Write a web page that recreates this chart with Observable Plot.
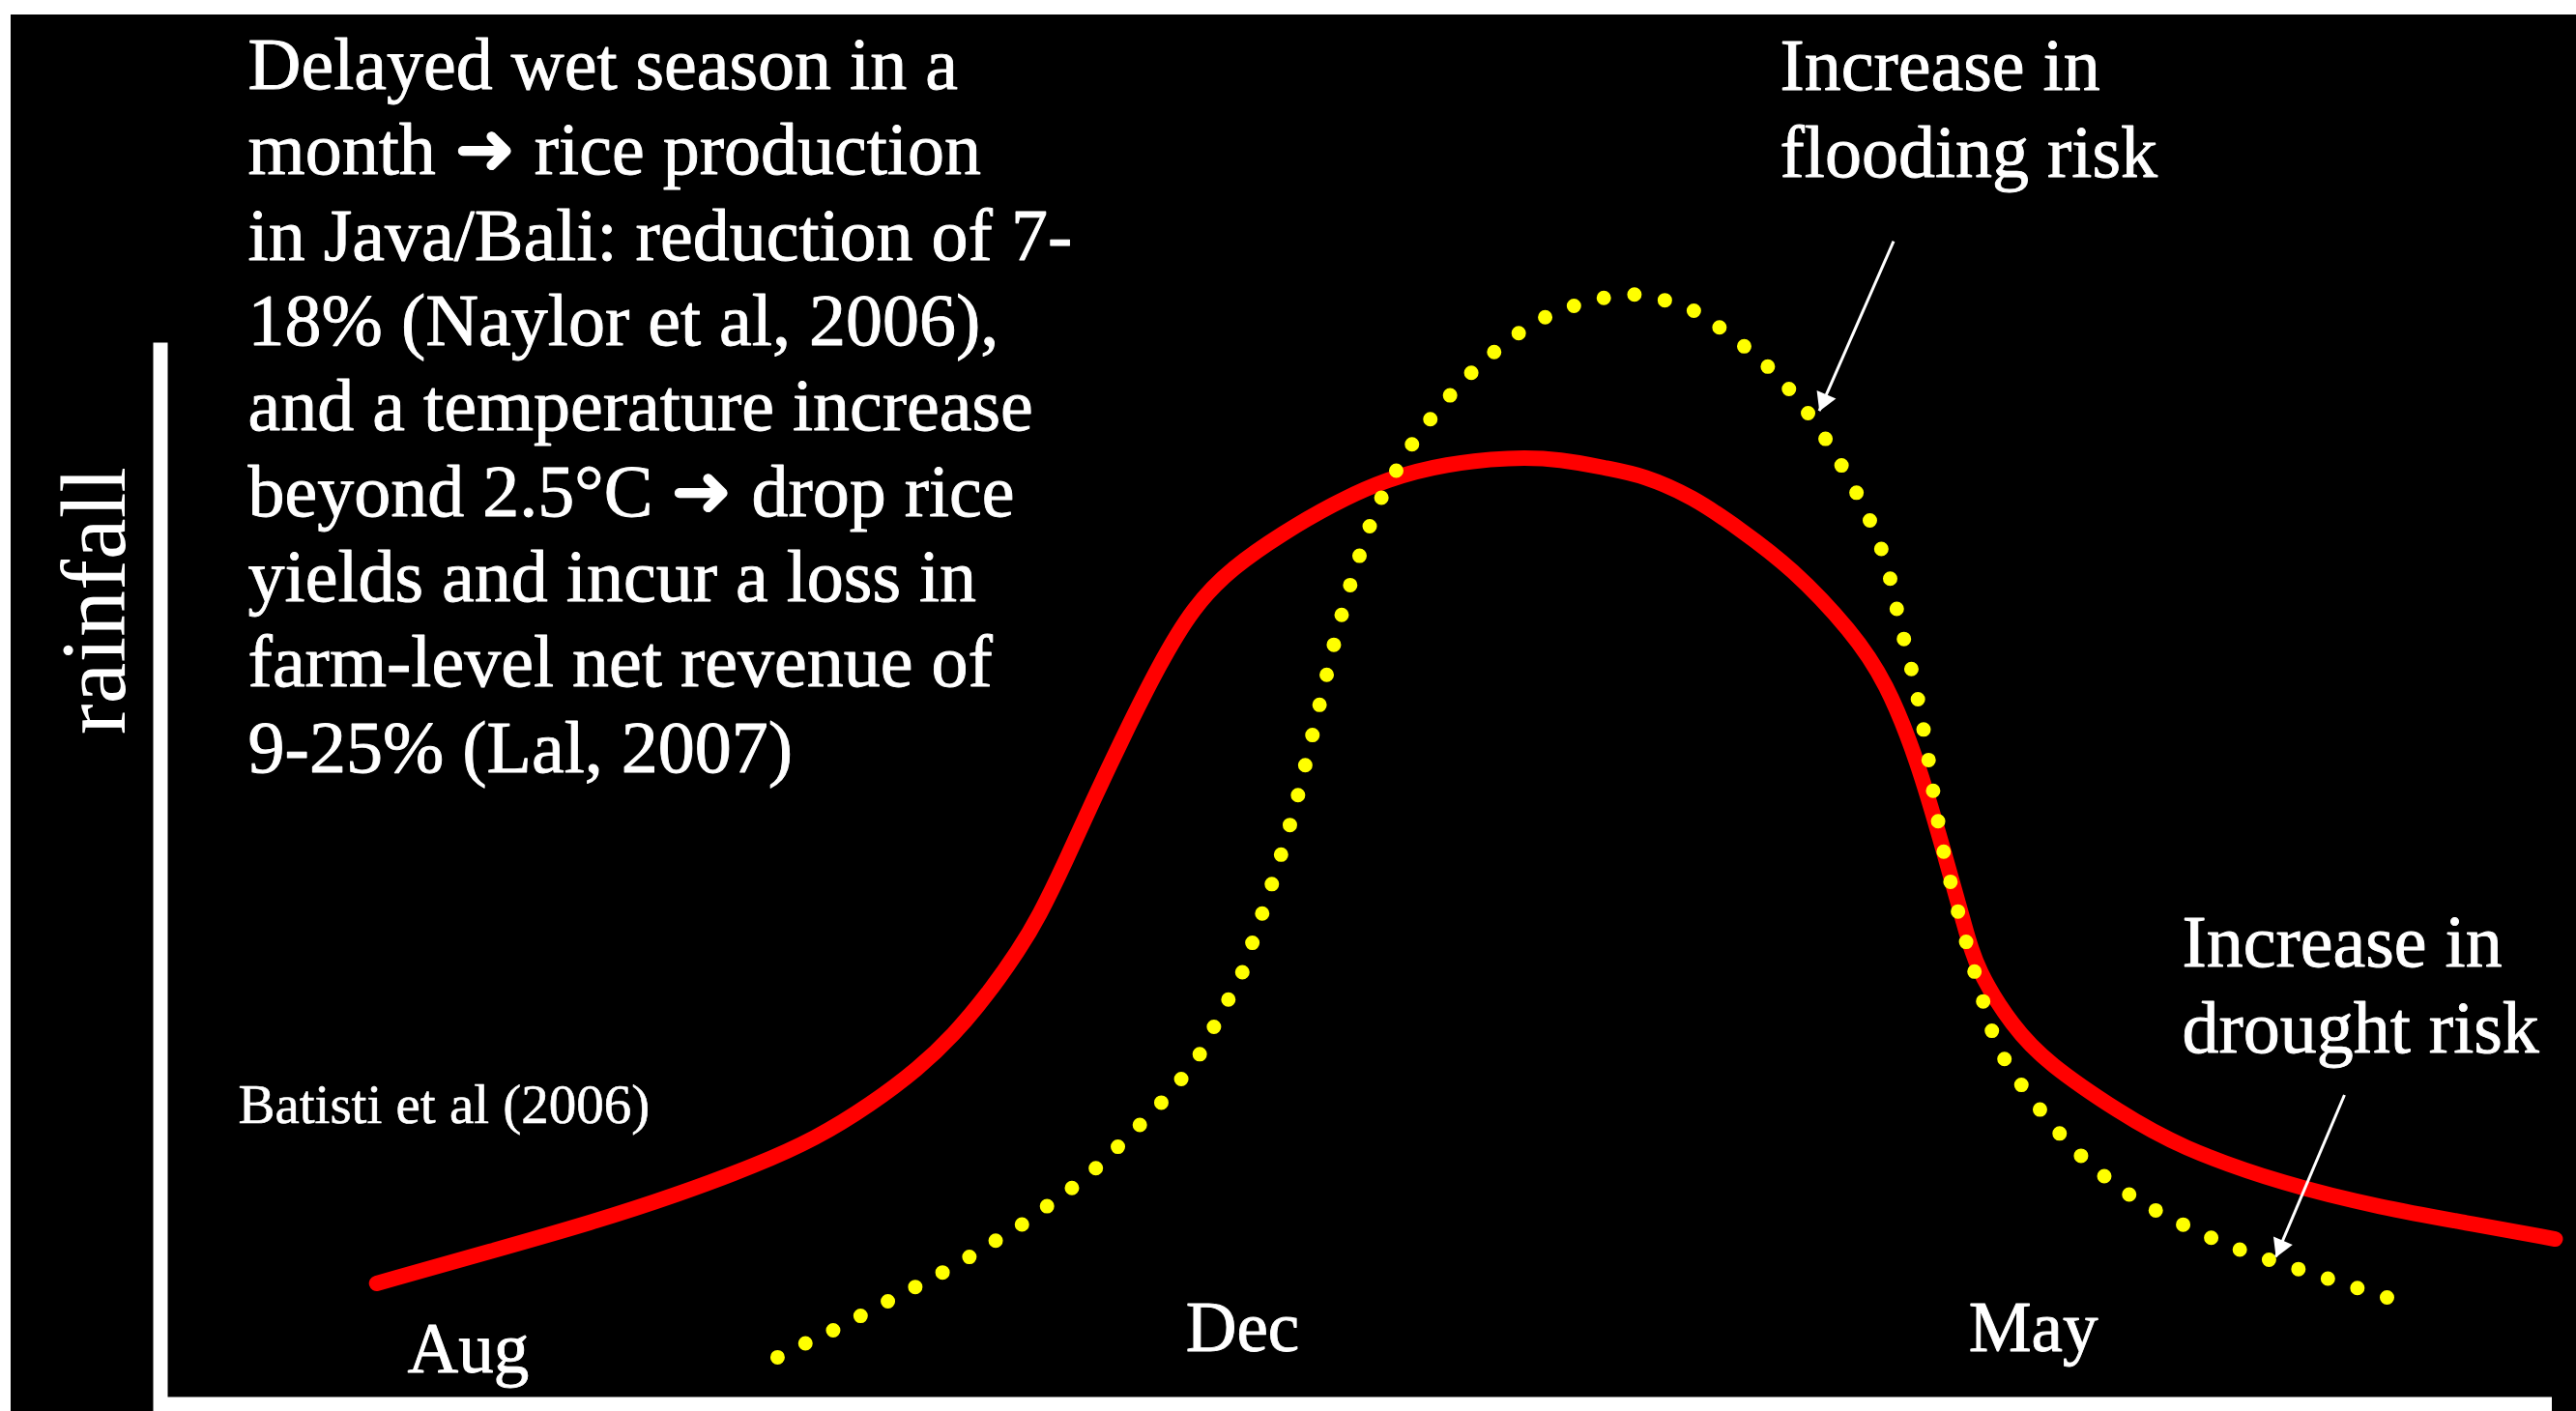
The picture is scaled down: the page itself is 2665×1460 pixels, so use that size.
<!DOCTYPE html>
<html><head><meta charset="utf-8">
<script src="https://cdn.jsdelivr.net/npm/d3@7"></script>
<script src="https://cdn.jsdelivr.net/npm/@observablehq/plot@0.6"></script>
<style>
html,body{margin:0;padding:0;background:#fff;}
#chart{position:absolute;left:11px;top:15px;width:2654px;height:1445px;background:#000;}
#chart svg{display:block;}
</style>
</head><body><div id="chart"></div>
<script>
// Schematic: time (0–100 across the season) vs rainfall (0–100)
const redTime = [9.04, 13.92, 18.04, 21.61, 24.91, 27.38, 29.71, 31.71, 33.15, 34.59, 35.89, 36.72, 37.82, 38.99, 40.29, 41.73, 43.18, 44.82, 46.95, 48.94, 51.28, 53.75, 56.43, 58.56, 60.55, 62.00, 64.06, 66.05, 68.18, 70.72, 72.16, 73.47, 74.50, 75.46, 75.94, 77.45, 78.89, 81.91, 84.39, 88.85, 92.90, 96.34, 100.12];
const redRain = [8.70, 11.07, 13.08, 15.08, 17.21, 19.10, 21.59, 24.19, 26.55, 29.51, 32.70, 35.07, 38.97, 43.46, 48.19, 53.16, 57.41, 60.25, 62.73, 64.74, 66.63, 67.70, 68.17, 68.05, 67.34, 66.87, 65.33, 62.97, 60.25, 55.64, 51.97, 46.30, 40.15, 34.24, 31.28, 27.14, 24.54, 21.00, 18.51, 15.79, 14.14, 13.08, 11.89];

const yellowTime = [25.80, 27.03, 28.20, 29.37, 30.54, 31.71, 32.87, 34.04, 35.14, 36.24, 37.34, 38.37, 39.40, 40.29, 41.25, 42.15, 42.97, 43.73, 44.34, 44.96, 45.85, 46.68, 47.43, 48.05, 48.67, 49.29, 50.04, 50.94, 51.56, 52.24, 53.82, 55.68, 57.87, 60.35, 61.65, 63.03, 64.26, 65.36, 67.35, 69.07, 71.06, 72.09, 72.71, 73.33, 73.81, 74.22, 74.70, 76.08, 76.90, 78.41, 80.13, 82.12, 84.39, 86.86, 89.33, 91.87, 93.18];
const yellowRain = [3.38, 4.44, 5.39, 6.45, 7.52, 8.58, 9.65, 10.83, 12.01, 13.19, 14.61, 15.91, 17.45, 18.99, 20.64, 22.30, 24.07, 25.96, 28.33, 29.98, 34.24, 38.61, 42.99, 47.36, 51.86, 56.23, 60.60, 64.86, 66.87, 68.88, 72.43, 75.62, 78.22, 79.64, 79.88, 79.40, 78.58, 77.28, 74.44, 70.89, 65.10, 60.84, 56.35, 51.97, 47.60, 42.99, 38.61, 29.74, 25.49, 21.59, 18.16, 15.32, 13.08, 11.18, 9.76, 8.35, 7.64];

const monthLabels = ["Aug", "Dec", "May"];
const monthTime = [12.87, 45.24, 78.30];
const monthRain = [2.33, 3.86, 3.86];

const yAxisLabel = "rainfall";
const yAxisTop = 75.86;

const mainNote = "Delayed wet season in a\nmonth \u279c rice production\nin Java/Bali: reduction of 7-\n18% (Naylor et al, 2006),\nand a temperature increase\nbeyond 2.5\u00b0C \u279c drop rice\nyields and incur a loss in\nfarm-level net revenue of\n9-25% (Lal, 2007)";
const sourceNote = "Batisti et al (2006)";
const floodNote = "Increase in\nflooding risk";
const droughtNote = "Increase in\ndrought risk";

// arrows: from label toward the curve
const arrowX1 = [72.46, 91.31];
const arrowY1 = [83.71, 22.26];
const arrowX2 = [69.35, 88.44];
const arrowY2 = [71.51, 10.61];

const red = redTime.map((t, i) => ({t, r: redRain[i]}));
const yellow = yellowTime.map((t, i) => ({t, r: yellowRain[i]}));
const months = monthLabels.map((m, i) => ({m, t: monthTime[i], r: monthRain[i]}));
const arrows = arrowX1.map((x1, i) => ({x1, y1: arrowY1[i], x2: arrowX2[i], y2: arrowY2[i]}));

const font = "Liberation Serif";
const textStyle = {fill: "#fff", stroke: "#fff", strokeWidth: 0.9, textAnchor: "start", lineAnchor: "bottom"};

const chart = Plot.plot({
  width: 2654,
  height: 1445,
  marginLeft: 154.5,
  marginRight: 25,
  marginTop: 0,
  marginBottom: 7.5,
  style: {background: "#000", color: "#fff", fontFamily: font},
  x: {domain: [0, 100], axis: null},
  y: {domain: [0, 100], axis: null},
  marks: [
    Plot.ruleY([0], {stroke: "#fff", strokeWidth: 15}),
    Plot.ruleX([0], {y1: 0, y2: yAxisTop, stroke: "#fff", strokeWidth: 15, strokeLinecap: "square"}),
    Plot.line(red, {x: "t", y: "r", curve: "basis", stroke: "#ff0000", strokeWidth: 16}),
    Plot.line(yellow, {x: "t", y: "r", curve: "catmull-rom", stroke: "#ffff00", strokeWidth: 15, strokeDasharray: "0 32", strokeLinecap: "round"}),
    Plot.link(arrows, {x1: "x1", y1: "y1", x2: "x2", y2: "y2", stroke: "#fff", strokeWidth: 3}),
    Plot.dot(arrows, {x: "x2", y: "y2", symbol: "triangle", r: 8, fill: "#fff", rotate: -157, dx: 5, dy: -11}),
    Plot.text([mainNote], {...textStyle, x: 3.66, y: 45.53, text: d => d, lineHeight: 88.3/76, fontSize: 76}),
    Plot.text([floodNote], {...textStyle, x: 67.71, y: 88.38, text: d => d, lineHeight: 90/76, fontSize: 76}),
    Plot.text([droughtNote], {...textStyle, x: 84.52, y: 25.29, text: d => d, lineHeight: 89/76, fontSize: 76}),
    Plot.text([sourceNote], {...textStyle, x: 3.25, y: 20.21, text: d => d, fontSize: 57, strokeWidth: 0.6}),
    Plot.text(months, {...textStyle, x: "t", y: "r", text: "m", textAnchor: "middle", fontSize: 73}),
    Plot.text([yAxisLabel], {...textStyle, x: -1.515, y: 57.84, text: d => d, rotate: -90, textAnchor: "middle", fontSize: 96, strokeWidth: 0})
  ]
});
document.getElementById("chart").appendChild(chart);
</script>
</body></html>
